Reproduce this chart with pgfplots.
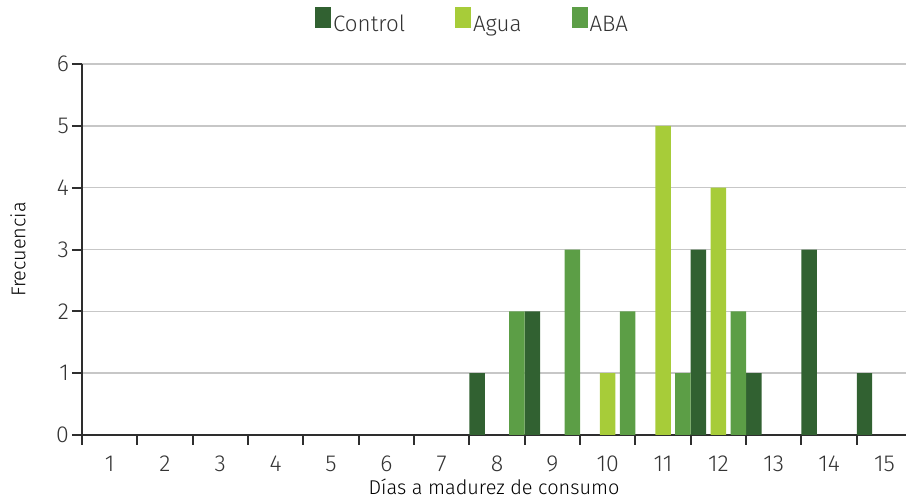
\documentclass[border=0pt]{standalone}
\usepackage{pgfplots}
\pgfplotsset{compat=1.18}
\usepackage{fontspec}
\setmainfont{Fira Sans Light}

\definecolor{control}{HTML}{316131}
\definecolor{agua}{HTML}{A7CC39}
\definecolor{aba}{HTML}{5C9E46}
\definecolor{txt}{HTML}{333333}
\definecolor{axisc}{HTML}{2E2E2E}

\begin{document}
\begin{tikzpicture}
\begin{axis}[
    scale only axis,
    width=412bp, height=185.5bp,
    xmin=0.5, xmax=15.39,
    ymin=0, ymax=6,
    axis x line=bottom, axis y line=left,
    axis line style={-, line width=1bp, draw=axisc},
    tick align=outside,
    major tick length=5bp,
    tick style={line width=1bp, draw=axisc},
    ytick={0,...,6},
    ymajorgrids,
    grid style={draw=black!22, line width=0.7bp},
    xtick={0.5,1.5,...,14.5},
    xticklabels={},
    extra x ticks={1,...,15},
    extra x tick labels={1,2,3,4,5,6,7,8,9,10,11,12,13,14,15},
    extra x tick style={major tick length=0pt},
    /pgf/number format/assume math mode=true,
    tick label style={font=\fontsize{11.6}{13}\selectfont, text=txt},
    xticklabel style={yshift=-7bp},
    yticklabel style={xshift=2bp},
    xlabel={Días a madurez de consumo},
    ylabel={Frecuencia},
    label style={font=\fontsize{11.7}{13}\selectfont, text=txt},
    every axis x label/.style={at={(axis description cs:0.5,0)}, anchor=center, yshift=-26bp},
    every axis y label/.style={at={(axis description cs:0,0.5)}, xshift=-32bp, rotate=90, anchor=center},
    legend style={at={(0.474,1)}, anchor=south, yshift=10.5bp, draw=none, fill=none,
        legend columns=-1, font=\fontsize{11.2}{12}\selectfont, text=txt,
        nodes={inner xsep=1bp},
        /tikz/every even column/.append style={column sep=24bp},
        /tikz/column 4/.append style={column sep=17bp}},
    legend image code/.code={\fill[#1] (0bp,-1.5bp) rectangle (8bp,9bp);},
]
% Control
\addplot[ybar, bar width=0.28, bar shift=-0.36, fill=control, draw=none] coordinates {
    (8,1) (9,2) (12,3) (13,1) (14,3) (15,1)
};
\addlegendentry{Control}
% Agua
\addplot[ybar, bar width=0.28, bar shift=0, fill=agua, draw=none] coordinates {
    (10,1) (11,5) (12,4)
};
\addlegendentry{Agua}
% ABA
\addplot[ybar, bar width=0.28, bar shift=0.36, fill=aba, draw=none] coordinates {
    (8,2) (9,3) (10,2) (11,1) (12,2)
};
\addlegendentry{ABA}
\coordinate (ll) at (rel axis cs:0,0);
\coordinate (ur) at (rel axis cs:1,1);
\end{axis}
\pgfresetboundingbox
\path ([xshift=-41bp,yshift=-31.5bp]ll) rectangle ([yshift=32bp]ur);
\end{tikzpicture}
\end{document}
